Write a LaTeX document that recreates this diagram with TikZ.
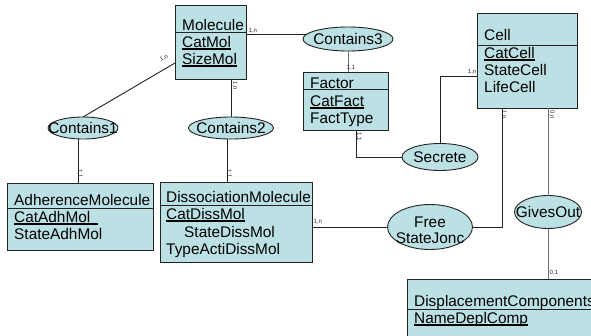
\documentclass[tikz,border=0pt]{standalone}
\usepackage{fontspec}
\setmainfont{Liberation Sans}
\usetikzlibrary{shapes.geometric}
\definecolor{efill}{RGB}{188,225,228}
\definecolor{eline}{RGB}{35,35,35}
\definecolor{gline}{RGB}{110,110,110}
\newcommand{\ulx}[2][0pt]{\setbox0\hbox{#2}\rlap{\rule[-2.6pt]{\dimexpr\wd0+#1\relax}{1.5pt}}\box0}
\begin{document}
\begin{tikzpicture}[x=1pt,y=-1pt,
  ent/.style={draw=eline, fill=efill, line width=0.9pt, inner sep=0pt, outer sep=0pt, anchor=north west},
  rel/.style={ellipse, draw=eline, fill=efill, line width=0.9pt, inner sep=0pt, outer sep=0pt},
  txt/.style={anchor=base west, inner sep=0pt, font=\fontsize{15.4}{18}\selectfont},
  ctxt/.style={inner sep=0pt, font=\fontsize{15.4}{18}\selectfont},
  card/.style={font=\fontsize{6}{7}\selectfont, inner sep=0.5pt, text=eline},
  conn/.style={draw=eline, line width=0.9pt},
  gconn/.style={draw=gline, line width=1pt},
  dv/.style={draw=eline, line width=0.9pt}]
\useasboundingbox (0,0) rectangle (591,335);
\clip (0,0) rectangle (591,335);

% relationship ellipses
\node[rel, minimum width=90pt, minimum height=24pt] (c3) at (348,39) {};
\node[rel, minimum width=70pt, minimum height=22pt] (c1) at (83,128) {};
\node[rel, minimum width=85pt, minimum height=22pt] (c2) at (231,128) {};
\node[rel, minimum width=76pt, minimum height=27pt] (sec) at (440,157) {};
\node[rel, minimum width=85pt, minimum height=45pt] (free) at (430,227) {};
\node[rel, minimum width=67pt, minimum height=33pt] (gives) at (548,212) {};

% entity boxes
\node[ent, minimum width=71pt, minimum height=74pt] (mol) at (175,5) {};
\node[ent, minimum width=85pt, minimum height=58pt] (fac) at (303,72) {};
\node[ent, minimum width=100pt, minimum height=95pt] (cell) at (477,13) {};
\node[ent, minimum width=146pt, minimum height=67pt] (adh) at (7,183) {};
\node[ent, minimum width=152pt, minimum height=80pt] (diss) at (160,182) {};
\node[ent, minimum width=200pt, minimum height=80pt] (disp) at (407,279) {};

% connectors
\draw[conn] (c3.173) -- (c3.173 -| mol.east);
\draw[gconn] (c3.south) -- (c3.south |- fac.north);
\draw[conn] ([yshift=16pt]mol.south west) -- (c1.north);
\draw[conn] ([xshift=-5pt]c1.south) -- ([xshift=-5pt]c1.south |- adh.north);
\draw[conn] (c2.north) -- (c2.north |- mol.south);
\draw[conn] ([xshift=-4pt]c2.south) -- ([xshift=-4pt]c2.south |- diss.north);
\draw[conn] ([xshift=53pt]fac.south west) |- (sec.west);
\draw[conn] (sec.north) |- ([yshift=-15.5pt]cell.west);
\draw[conn] (free.west) -- (free.west -| diss.east);
\draw[conn] ([xshift=25pt]cell.south west) |- (free.east);
\draw[gconn] (gives.north) -- (gives.north |- cell.south);
\draw[gconn] (gives.south) -- (gives.south |- disp.north);

% ellipse labels
\node[ctxt] (c3t) at (c3) {Contains3};
\node[ctxt] (c1t) at (c1) {Contains1};
\node[ctxt] (c2t) at (c2) {Contains2};
\node[ctxt] (sect) at (sec) {Secrete};
\node[ctxt] (freet) at ([yshift=5pt]free.center) {Free};
\node[ctxt] (freet2) at ([yshift=-11pt]free.center) {StateJonc};
\node[ctxt] (givest) at (gives) {GivesOut};

% dividers
\draw[dv] (175,32) -- (246,32);
\draw[dv] (303,89) -- (388,89);
\draw[dv] (477,45) -- (577,45);
\draw[dv] (7,208) -- (153,208);
\draw[dv] (160,205) -- (312,205);
\draw[dv] (407,309) -- (607,309);

% entity texts
\node[txt] (mt1) at (182,30) {Molecule};
\node[txt] (mt2) at (182,47) {\ulx{CatMol}};
\node[txt] (mt3) at (182,64) {\ulx{SizeMol}};
\node[txt] (ft1) at (310,88) {Factor};
\node[txt] (ft2) at (310,106) {\ulx{CatFact}};
\node[txt] (ft3) at (310,123) {FactType};
\node[txt] (ct1) at (484,40) {Cell};
\node[txt] (ct2) at (484,58) {\ulx{CatCell}};
\node[txt] (ct3) at (484,75) {StateCell};
\node[txt] (ct4) at (484,92) {LifeCell};
\node[txt] (at1) at (14,205) {AdherenceMolecule};
\node[txt] (at2) at (14,222) {\ulx[8pt]{CatAdhMol}};
\node[txt] (at3) at (14,239) {StateAdhMol};
\node[txt] (dt1) at (166,202) {DissociationMolecule};
\node[txt] (dt2) at (166,219) {\ulx{CatDissMol}};
\node[txt] (dt3) at (184,237) {StateDissMol};
\node[txt] (dt4) at (166,254) {TypeActiDissMol};
\node[txt] (pt1) at (414,306) {DisplacementComponents};
\node[txt] (pt2) at (414,323) {\ulx{NameDeplComp}};

% cardinalities
\node[card, anchor=south west] (k1) at (248,34) {1,n};
\node[card, anchor=south west] (k2) at (346,71) {1,1};
\node[card, rotate=30] (k3) at (164,58) {1,n};
\node[card, rotate=-90] (k4) at (235,86) {1,n};
\node[card, rotate=-90] (k5) at (80,174) {1,1};
\node[card, rotate=-90] (k6) at (229,174) {1,1};
\node[card, rotate=-90] (k7) at (359,137) {1,1};
\node[card, anchor=south east] (k8) at (477,75) {1,n};
\node[card, rotate=-90] (k9) at (504,115) {1,n};
\node[card, rotate=-90] (k10) at (552,115) {0,n};
\node[card, anchor=south west] (k11) at (313,225) {1,n};
\node[card, anchor=south west] (k12) at (549,276) {0,1};
\end{tikzpicture}
\end{document}
